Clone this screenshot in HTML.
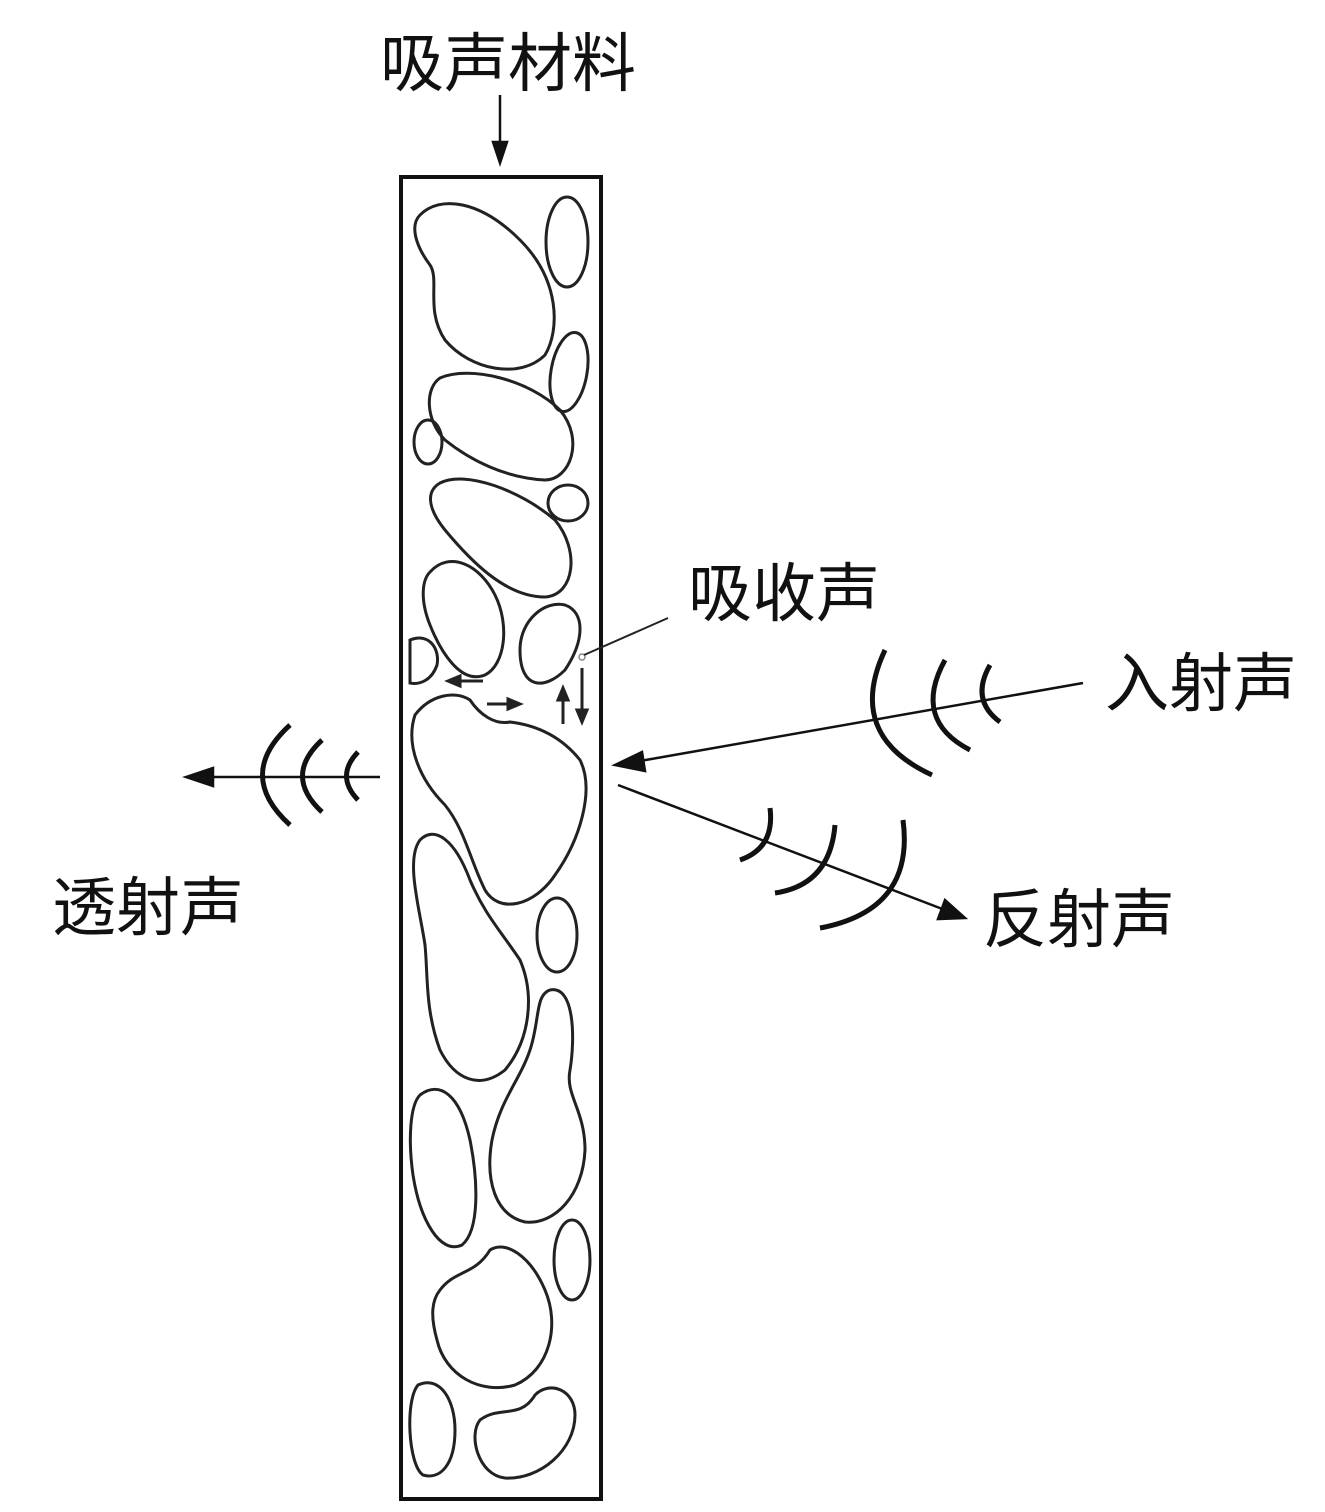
<!DOCTYPE html>
<html><head><meta charset="utf-8"><style>
html,body{margin:0;padding:0;background:#fff;}
svg{display:block}
text{font-family:"Liberation Sans","Noto Sans CJK SC",sans-serif;fill:#111;}
</style></head><body>
<svg width="1325" height="1512" viewBox="0 0 1325 1512" xmlns="http://www.w3.org/2000/svg">
<rect x="401" y="177" width="200" height="1322" fill="none" stroke="#111" stroke-width="4"/>
<g fill="none" stroke="#222" stroke-width="3">
<path d="M420,215 C440,195 480,200 520,240 C560,280 560,330 545,355 C520,380 470,370 445,340 C425,310 440,280 430,265 C415,245 410,225 420,215Z"/>
<ellipse cx="567" cy="242" rx="21" ry="45"/>
<ellipse cx="569" cy="372" rx="18" ry="40" transform="rotate(10 569 372)"/>
<path d="M440,378 C470,365 530,380 560,410 C585,440 570,480 545,480 C505,478 470,460 445,440 C425,420 425,388 440,378Z"/>
<ellipse cx="428" cy="442" rx="14" ry="22"/>
<path d="M440,483 C465,470 520,490 555,520 C580,550 575,595 545,597 C505,597 470,560 445,530 C425,505 428,490 440,483Z"/>
<ellipse cx="568" cy="503" rx="20" ry="18"/>
<path d="M430,572 C450,550 480,565 495,595 C510,625 505,665 485,675 C460,685 440,650 430,625 C420,600 422,580 430,572Z"/>
<path d="M520,650 C520,620 545,600 565,605 C585,612 585,640 565,670 C545,690 520,690 520,650Z"/>
<path d="M410,640 C430,632 440,650 437,665 C432,680 420,685 410,683Z"/>
<path d="M415,715 C430,695 455,690 470,700 C480,715 495,725 510,722 C535,725 560,735 580,760 C595,790 580,840 555,875 C535,905 500,915 485,890 C470,860 465,830 445,805 C420,780 405,745 415,715Z"/>
<path d="M420,840 C435,825 455,840 470,880 C485,915 500,930 520,960 C535,995 530,1040 505,1070 C480,1090 455,1080 440,1050 C425,1010 428,975 425,945 C420,910 405,860 420,840Z"/>
<ellipse cx="557" cy="935" rx="20" ry="37"/>
<path d="M550,990 C575,985 575,1040 570,1070 C565,1095 585,1110 585,1150 C583,1195 555,1225 525,1222 C495,1215 485,1180 492,1140 C500,1100 520,1080 530,1050 C540,1020 535,995 550,990Z"/>
<path d="M420,1095 C440,1080 460,1095 470,1140 C478,1180 480,1230 462,1245 C440,1255 420,1220 413,1175 C408,1140 410,1105 420,1095Z"/>
<ellipse cx="572" cy="1260" rx="18" ry="40"/>
<path d="M440,1290 C455,1270 475,1275 490,1250 C505,1240 530,1255 545,1290 C560,1325 550,1370 515,1385 C480,1395 445,1375 437,1340 C430,1315 432,1300 440,1290Z"/>
<path d="M418,1385 C440,1375 455,1400 455,1430 C455,1465 440,1480 423,1475 C408,1465 405,1400 418,1385Z"/>
<path d="M480,1420 C500,1405 520,1420 535,1395 C550,1380 575,1390 575,1415 C575,1450 540,1480 505,1478 C478,1475 468,1435 480,1420Z"/>
</g>
<circle cx="582" cy="657" r="3" fill="none" stroke="#888" stroke-width="1.5"/>
<line x1="584" y1="655" x2="668" y2="618" stroke="#222" stroke-width="2"/>
<g stroke="#222" stroke-width="3" fill="#222">
<line x1="483" y1="681" x2="458" y2="681"/><polygon points="448,681 460,676 460,686"/>
<line x1="487" y1="704" x2="510" y2="704"/><polygon points="520,704 508,699 508,709"/>
<line x1="563" y1="724" x2="563" y2="698"/><polygon points="563,688 558,700 568,700"/>
<line x1="582" y1="668" x2="582" y2="712"/><polygon points="582,722 577,710 587,710"/>
</g>
<g stroke="#111" stroke-width="2.5" fill="#111">
<line x1="500" y1="95" x2="500" y2="150"/><polygon points="500,163 493,142 507,142"/>
<line x1="1083" y1="683" x2="640" y2="761"/><polygon points="615,765 642,752 645,771"/>
<line x1="618" y1="785" x2="945" y2="910"/><polygon points="965,918 938,919 945,900"/>
<line x1="380" y1="777" x2="210" y2="777"/><polygon points="186,777 213,768 213,786"/>
</g>
<g fill="none" stroke="#111" stroke-width="5">
<path d="M885,650 Q845,735 932,775"/>
<path d="M945,660 Q912,720 970,750"/>
<path d="M990,665 Q970,700 1000,722"/>
<path d="M290,725 Q235,775 290,825"/>
<path d="M322,740 Q283,776 322,812"/>
<path d="M358,752 Q335,776 358,800"/>
<path d="M770,808 Q775,848 740,860"/>
<path d="M835,825 Q830,885 775,893"/>
<path d="M903,820 Q915,910 820,928"/>
</g>
<text x="380" y="86" font-size="64">吸声材料</text>
<text x="688" y="616" font-size="64">吸收声</text>
<text x="1105" y="706" font-size="64">入射声</text>
<text x="983" y="942" font-size="64">反射声</text>
<text x="52" y="930" font-size="64">透射声</text>
</svg>
</body></html>
